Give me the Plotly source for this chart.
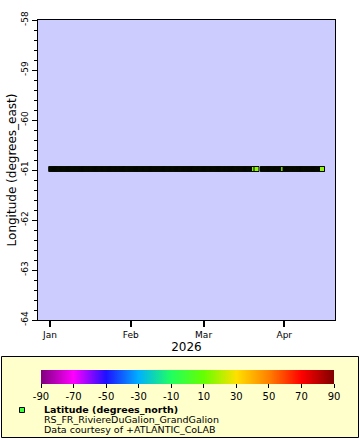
import pandas as pd
import plotly.graph_objects as go

# ---- data ----
seg_starts = ["2026-01-01 12:00", "2026-03-21 08:00", "2026-03-23 20:00", "2026-04-01 12:00"]
seg_ends = ["2026-03-20 10:00", "2026-03-21 08:00", "2026-03-31 14:00", "2026-04-15 12:00"]
sample_step = "3h"
longitude_value = -60.98
latitude_value = 14.7

x_range = ["2025-12-27 09:20", "2026-04-20 11:45"]
x_tickvals = ["2026-01-01", "2026-02-01", "2026-03-01", "2026-04-01"]
x_ticktext = ["Jan", "Feb", "Mar", "Apr"]
y_range = [-64, -58]
y_tickvals = [-64, -63, -62, -61, -60, -59, -58]
y_ticktext = ["-64", "-63", "-62", "-61", "-60", "-59", "-58"]
cbar_ticks = [-90, -70, -50, -30, -10, 10, 30, 50, 70, 90]
cbar_ticktext = ["-90", "-70", "-50", "-30", "-10", "10", "30", "50", "70", "90"]
palette = [
    [0.0, "#800080"], [0.111, "#ff00ff"], [0.222, "#1e10ff"], [0.333, "#00b0ff"],
    [0.444, "#20ff60"], [0.556, "#66ff00"], [0.667, "#ffe000"], [0.778, "#ff8000"],
    [0.889, "#ff0000"], [1.0, "#800000"],
]
legend_title = "Latitude (degrees_north)"
legend_lines = ["RS_FR_RiviereDuGalion_GrandGalion", "Data courtesy of +ATLANTIC_CoLAB"]

times = []
for s, e in zip(seg_starts, seg_ends):
    times.extend(list(pd.date_range(s, e, freq=sample_step)))
lons = [longitude_value] * len(times)
lats = [latitude_value] * len(times)

W, H = 360, 440
FONT = "DejaVu Sans"

def px(x):
    return x / W

def py(y):
    return 1 - y / H

fig = go.Figure()
fig.add_trace(go.Scatter(
    x=times, y=lons, mode="markers",
    marker=dict(
        symbol="square", size=5, color=lats, cmin=-90, cmax=90,
        colorscale=palette, line=dict(color="black", width=1),
        showscale=True,
        colorbar=dict(
            orientation="h", x=px((41 + 334) / 2), xanchor="center",
            y=py(370), yanchor="top", len=293 / W, lenmode="fraction",
            thickness=14, thicknessmode="pixels", xpad=0, ypad=0,
            outlinewidth=0, ticks="outside", ticklen=4, tickcolor="black",
            tickvals=cbar_ticks, ticktext=cbar_ticktext,
            tickfont=dict(family=FONT, size=10, color="black"),
            bgcolor="rgba(0,0,0,0)",
        ),
    ),
    showlegend=False, hoverinfo="skip",
))

fig.update_layout(
    width=W, height=H, margin=dict(l=0, r=0, t=0, b=0),
    paper_bgcolor="white", plot_bgcolor="#ccccff",
    font=dict(family=FONT, color="black"),
    xaxis=dict(
        domain=[px(38), px(335)], type="date", range=x_range,
        tickvals=x_tickvals, ticktext=x_ticktext, ticks="outside", ticklen=6,
        tickwidth=2, tickcolor="black", showgrid=False, zeroline=False,
        showline=True, linecolor="black", linewidth=1, mirror=True,
        tickfont=dict(size=9), automargin=False,
        title=dict(text="2026", font=dict(size=12), standoff=3),
    ),
    yaxis=dict(
        domain=[py(320), py(20)], range=y_range,
        tickvals=y_tickvals, ticktext=y_ticktext,
        ticks="outside", ticklen=5, tickwidth=1, tickcolor="black",
        tickangle=-90, showgrid=False, zeroline=False,
        showline=True, linecolor="black", linewidth=1, mirror=True,
        tickfont=dict(size=9), automargin=False,
        minor=dict(dtick=0.2, tick0=-64, ticks="outside", ticklen=3, tickcolor="black", showgrid=False),
        title=dict(text="Longitude (degrees_east)", font=dict(size=12), standoff=1),
    ),
    shapes=[
        dict(type="rect", xref="paper", yref="paper", x0=px(1.5), x1=px(358.5),
             y0=py(437.5), y1=py(356.5), fillcolor="#ffffcc",
             line=dict(color="black", width=1), layer="below"),
        dict(type="rect", xref="paper", yref="paper", x0=px(19.5), x1=px(24.5),
             y0=py(412.5), y1=py(407.5), fillcolor="#40ff40",
             line=dict(color="black", width=1)),
    ],
    annotations=[
        dict(text="<b>" + legend_title + "</b>", xref="paper", yref="paper",
             x=px(42), y=py(409), xanchor="left", yanchor="middle", showarrow=False,
             font=dict(size=9.5)),
        dict(text=legend_lines[0], xref="paper", yref="paper",
             x=px(42), y=py(419.5), xanchor="left", yanchor="middle", showarrow=False,
             font=dict(size=9.5)),
        dict(text=legend_lines[1], xref="paper", yref="paper",
             x=px(42), y=py(429.5), xanchor="left", yanchor="middle", showarrow=False,
             font=dict(size=9.5)),
    ],
)

fig.write_html("out.html", config={"displayModeBar": False})

# remove the default page margin so the figure sits at the window's top-left corner
with open("out.html", "r", encoding="utf-8") as f:
    html = f.read()
html = html.replace("<head>", "<head><style>html,body{margin:0;padding:0;overflow:hidden;}</style>", 1)
with open("out.html", "w", encoding="utf-8") as f:
    f.write(html)
